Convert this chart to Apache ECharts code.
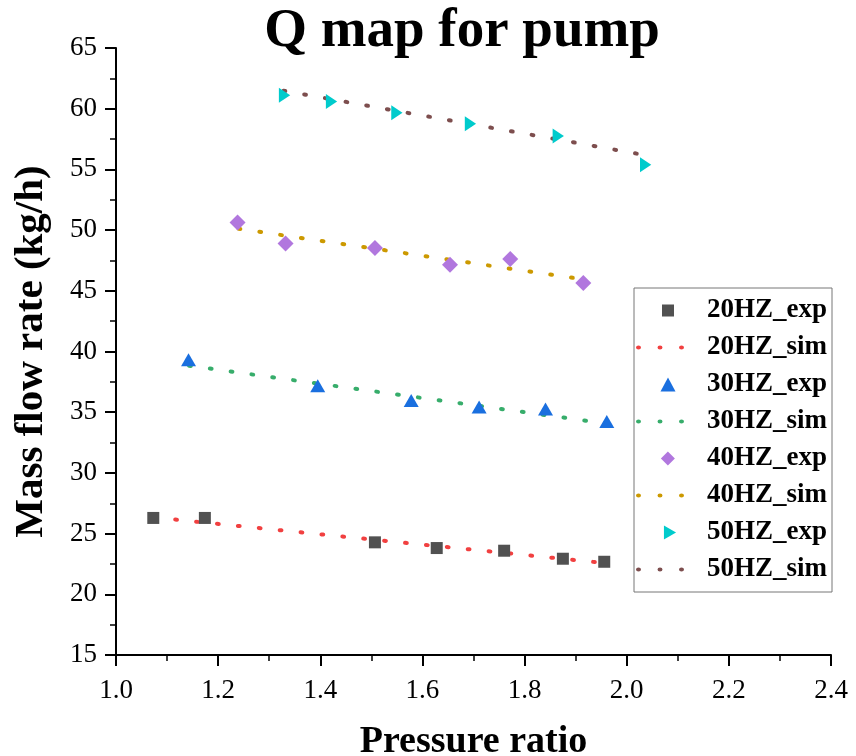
<!DOCTYPE html>
<html>
<head>
<meta charset="utf-8">
<script src="https://cdn.jsdelivr.net/npm/echarts@6/dist/echarts.min.js"></script>
<style>html,body{margin:0;padding:0;background:#fff;}#c{width:856px;height:756px;}</style>
</head>
<body>
<div id="c"></div>
<script>
// Data
const exp20 = [[1.073, 26.29], [1.174, 26.29], [1.507, 24.28], [1.628, 23.81], [1.760, 23.59], [1.875, 22.93], [1.956, 22.68]];
const sim20 = [[1.075, 26.33], [1.3, 25.37], [1.5, 24.52], [1.7, 23.67], [1.946, 22.62]];
const exp30 = [[1.142, 39.32], [1.395, 37.18], [1.578, 35.97], [1.711, 35.43], [1.841, 35.26], [1.961, 34.24]];
const sim30 = [[1.143, 38.83], [1.4, 37.33], [1.6, 36.17], [1.8, 35.00], [1.96, 34.07]];
const exp40 = [[1.238, 50.63], [1.332, 48.90], [1.507, 48.53], [1.654, 47.15], [1.772, 47.62], [1.915, 45.64]];
const sim40 = [[1.24, 50.11], [1.4, 49.12], [1.6, 47.89], [1.8, 46.65], [1.915, 45.94]];
const exp50 = [[1.330, 61.10], [1.422, 60.60], [1.550, 59.67], [1.694, 58.76], [1.866, 57.75], [2.037, 55.39]];
const sim50 = [[1.328, 61.48], [1.5, 60.19], [1.7, 58.69], [1.9, 57.20], [2.037, 56.17]];
const seriesNames = ['20HZ_exp', '20HZ_sim', '30HZ_exp', '30HZ_sim', '40HZ_exp', '40HZ_sim', '50HZ_exp', '50HZ_sim'];
const xTicks = { min: 1.0, max: 2.4, interval: 0.2 };
const yTicks = { min: 15, max: 65, interval: 5 };

const FONT = '"Liberation Serif", "Times New Roman", serif';
const COLORS = ['#515151', '#F14040', '#1A6FDF', '#37AD6B', '#B177DE', '#CC9900', '#00CBCC', '#7D4E4E'];

const SQUARE = 'path://M0,0h12v12h-12z';
const TRI_UP = 'path://M7.5,0L15,14L0,14Z';
const DIAMOND = 'path://M8,0L16,8L8,16L0,8Z';
const TRI_RIGHT = 'path://M0,0L13,7.5L0,15Z';
// legend icons (extra move-to points shift the visible shape right inside the icon box)
const SQUARE_LEG = 'path://M-17,-1M13,13M0,0h12v12h-12z';
const TRI_UP_LEG = 'path://M-16,0M7.5,0L15,14L0,14Z';
const DIAMOND_LEG = 'path://M-18,0M8,0L16,8L8,16L0,8Z';
const TRI_RIGHT_LEG = 'path://M-21.4,0M0,0L13,7.5L0,15Z';
const DOTS3 = 'path://M0,2a2.5,2,0,1,0,5,0a2.5,2,0,1,0,-5,0M21.5,2a2.5,2,0,1,0,5,0a2.5,2,0,1,0,-5,0M43,2a2.5,2,0,1,0,5,0a2.5,2,0,1,0,-5,0';

const dotted = (color) => ({ color: color, width: 4, type: [1.8, 19.2], cap: 'round' });
const simSeries = (name, data, color) => ({
  name: name, type: 'line', data: data, showSymbol: false, symbol: 'none',
  lineStyle: dotted(color), itemStyle: { color: color }, z: 2, symbolKeepAspect: true
});
const expSeries = (name, data, color, symbol, size) => ({
  name: name, type: 'scatter', data: data, symbol: symbol, symbolSize: size, symbolKeepAspect: true,
  itemStyle: { color: color, opacity: 1 }, z: 3
});
const legendIcons = [SQUARE_LEG, DOTS3, TRI_UP_LEG, DOTS3, DIAMOND_LEG, DOTS3, TRI_RIGHT_LEG, DOTS3];

const chart = echarts.init(document.getElementById('c'), null, { renderer: 'canvas' });
chart.setOption({
  animation: false,
  backgroundColor: '#ffffff',
  title: {
    text: 'Q map for pump', left: 457, top: -1, textAlign: 'center',
    textStyle: { fontFamily: FONT, fontWeight: 'bold', fontSize: 55, color: '#000' }
  },
  grid: { left: 116, right: 25, top: 48, bottom: 101, containLabel: false, outerBoundsMode: 'none' },
  xAxis: {
    type: 'value', min: xTicks.min, max: xTicks.max, interval: xTicks.interval,
    name: 'Pressure ratio', nameLocation: 'middle', nameGap: 68,
    nameTextStyle: { fontFamily: FONT, fontWeight: 'bold', fontSize: 38, color: '#000' },
    axisLine: { show: true, onZero: false, lineStyle: { color: '#000', width: 2 } },
    axisTick: { show: true, length: 11, lineStyle: { color: '#000', width: 2 } },
    minorTick: { show: true, splitNumber: 2, length: 6, lineStyle: { color: '#000', width: 1.5 } },
    axisLabel: { fontFamily: FONT, fontSize: 27, color: '#000', margin: 22, formatter: (v) => v.toFixed(1) },
    splitLine: { show: false }
  },
  yAxis: {
    type: 'value', min: yTicks.min, max: yTicks.max, interval: yTicks.interval,
    name: 'Mass flow rate (kg/h)', nameLocation: 'middle', nameGap: 64,
    nameTextStyle: { fontFamily: FONT, fontWeight: 'bold', fontSize: 41, color: '#000' },
    axisLine: { show: true, onZero: false, lineStyle: { color: '#000', width: 2 } },
    axisTick: { show: true, length: 11, lineStyle: { color: '#000', width: 2 } },
    minorTick: { show: true, splitNumber: 2, length: 6, lineStyle: { color: '#000', width: 1.5 } },
    axisLabel: { fontFamily: FONT, fontSize: 27, color: '#000', margin: 19 },
    splitLine: { show: false }
  },
  legend: {
    orient: 'vertical', left: 634, top: 288,
    data: seriesNames.map((n, i) => ({ name: n, icon: legendIcons[i], itemStyle: { color: COLORS[i], borderWidth: 0 } })),
    itemWidth: 48, itemHeight: 14, itemGap: 10,
    padding: [9, 5, 9, 2],
    borderColor: '#777', borderWidth: 1,
    textStyle: { fontFamily: FONT, fontWeight: 'bold', fontSize: 27, color: '#000', padding: [0, 0, 0, 18] }
  },
  series: [
    expSeries('20HZ_exp', exp20, COLORS[0], SQUARE, 12),
    simSeries('20HZ_sim', sim20, COLORS[1]),
    expSeries('30HZ_exp', exp30, COLORS[2], TRI_UP, [15, 14]),
    simSeries('30HZ_sim', sim30, COLORS[3]),
    expSeries('40HZ_exp', exp40, COLORS[4], DIAMOND, 16),
    simSeries('40HZ_sim', sim40, COLORS[5]),
    expSeries('50HZ_exp', exp50, COLORS[6], TRI_RIGHT, [13, 15]),
    simSeries('50HZ_sim', sim50, COLORS[7])
  ]
});
</script>
</body>
</html>
